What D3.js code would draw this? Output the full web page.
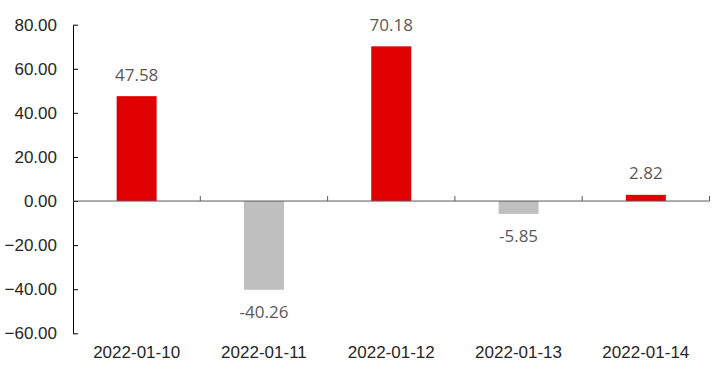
<!DOCTYPE html>
<html>
<head>
<meta charset="utf-8">
<script src="https://cdn.jsdelivr.net/npm/d3@7"></script>
<style>
  body { margin: 0; background: #fff; }
</style>
</head>
<body>
<div id="chart-area"></div>
<script>
// chart data
var dates = ["2022-01-10", "2022-01-11", "2022-01-12", "2022-01-13", "2022-01-14"];
var values = [47.58, -40.26, 70.18, -5.85, 2.82];
var yTicks = [-60, -40, -20, 0, 20, 40, 60, 80];

var W = 714, H = 369;
var margin = {left: 73, right: 709.5, top: 24.7, bottom: 333.3};
var barWidth = 40;

var svg = d3.select("#chart-area")
  .append("svg")
  .attr("width", W)
  .attr("height", H);

var x = d3.scaleBand()
  .domain(dates)
  .range([margin.left, margin.right])
  .padding(0);

var y = d3.scaleLinear()
  .domain([-60, 80])
  .range([margin.bottom, margin.top]);

// y axis, ticks pointing inwards
var yAxis = d3.axisLeft(y)
  .tickValues(yTicks)
  .tickSize(-5)
  .tickSizeOuter(0)
  .tickPadding(16)
  .tickFormat(d3.format(".2f"));

var gy = svg.append("g")
  .attr("transform", "translate(" + margin.left + ",0)")
  .call(yAxis);
gy.select(".domain").attr("stroke", "#000");
gy.selectAll(".tick line").attr("stroke", "#000");
gy.selectAll(".tick text")
  .attr("fill", "#262626")
  .attr("font-family", "Liberation Sans, Arial, sans-serif")
  .attr("font-size", "17px");

// bars
svg.append("g")
  .selectAll("rect")
  .data(values)
  .enter()
  .append("rect")
  .attr("x", (d, i) => x(dates[i]) + (x.bandwidth() - barWidth) / 2)
  .attr("width", barWidth)
  .attr("y", d => y(Math.max(d, 0)))
  .attr("height", d => Math.abs(y(d) - y(0)))
  .attr("fill", d => d >= 0 ? "#e00000" : "#bfbfbf");

// zero line with category boundary ticks
var boundaries = dates.map(d => x(d) + x.step());
svg.append("line")
  .attr("x1", margin.left).attr("x2", margin.right)
  .attr("y1", y(0)).attr("y2", y(0))
  .attr("stroke", "#595959")
  .attr("stroke-width", 1);
svg.append("g")
  .selectAll("line")
  .data(boundaries)
  .enter()
  .append("line")
  .attr("x1", d => d).attr("x2", d => d)
  .attr("y1", y(0)).attr("y2", y(0) - 5)
  .attr("stroke", "#595959");

// value labels
svg.append("g")
  .selectAll("text")
  .data(values)
  .enter()
  .append("text")
  .attr("x", (d, i) => x(dates[i]) + x.bandwidth() / 2)
  .attr("y", d => d >= 0 ? y(d) - 15.5 : y(d) + 28)
  .attr("text-anchor", "middle")
  .attr("font-family", "Open Sans, sans-serif")
  .attr("font-size", "17px")
  .attr("fill", "#595959")
  .text(d => d.toFixed(2));

// category labels
svg.append("g")
  .selectAll("text")
  .data(dates)
  .enter()
  .append("text")
  .attr("x", d => x(d) + x.bandwidth() / 2)
  .attr("y", 358)
  .attr("text-anchor", "middle")
  .attr("font-family", "Liberation Sans, Arial, sans-serif")
  .attr("font-size", "17px")
  .attr("fill", "#262626")
  .text(d => d);
</script>
</body>
</html>
